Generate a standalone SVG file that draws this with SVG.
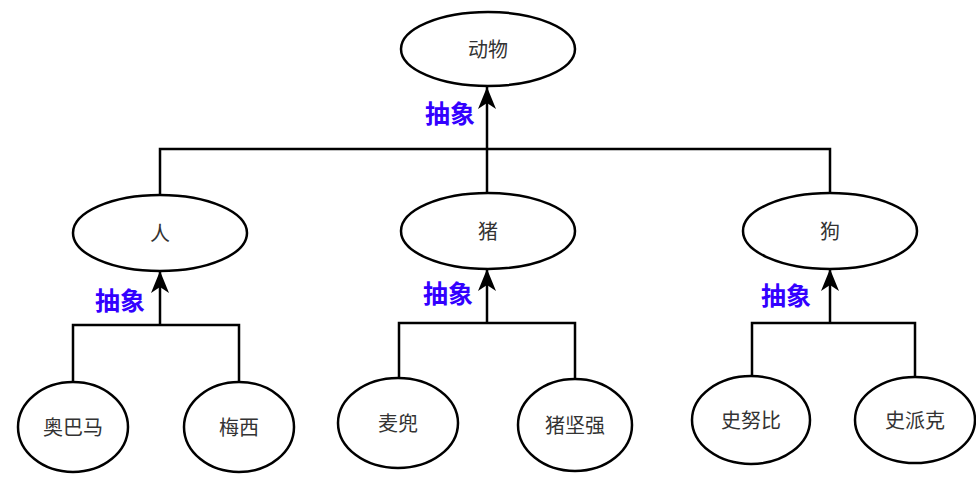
<svg xmlns="http://www.w3.org/2000/svg" width="976" height="482" viewBox="0 0 976 482">
<style>
.n ellipse{fill:#fff;stroke:#000;stroke-width:2.5}
.n text{font-family:"Noto Sans CJK SC","Liberation Sans",sans-serif;font-size:20px;fill:#333;text-anchor:middle;dominant-baseline:central}
.c path{fill:none;stroke:#000;stroke-width:2.5}
.lbl{font-family:"Noto Sans CJK SC",sans-serif;font-size:25px;font-weight:bold;fill:#3300ff;text-anchor:middle}
</style>
<defs>
<marker id="ah" viewBox="0 0 22 18" refX="22" refY="9" markerWidth="22" markerHeight="18" markerUnits="userSpaceOnUse" orient="auto">
<path d="M0,0 L22,9 L0,18 L6,9 Z" fill="#000"/>
</marker>
</defs>
<g class="c" id="connectors">
<path d="M160,195 V149 H830 V193"/>
<path d="M487,149 V193"/>
<path d="M487,149 V87" marker-end="url(#ah)"/>
<path d="M73,382 V325 H239 V382"/>
<path d="M160,325 V271" marker-end="url(#ah)"/>
<path d="M399,379 V323 H575 V378"/>
<path d="M487,323 V269" marker-end="url(#ah)"/>
<path d="M752,376 V323 H915 V377"/>
<path d="M830,323 V269" marker-end="url(#ah)"/>
</g>
<text class="lbl" x="450" y="123">抽象</text>
<text class="lbl" x="120" y="310">抽象</text>
<text class="lbl" x="448" y="303">抽象</text>
<text class="lbl" x="786" y="305">抽象</text>
<g class="n" id="animal"><ellipse cx="488" cy="49" rx="87" ry="37"/><text x="488" y="48">动物</text></g>
<g class="n" id="person"><ellipse cx="160" cy="233" rx="87" ry="38"/><text x="160" y="232">人</text></g>
<g class="n" id="pig"><ellipse cx="488" cy="231" rx="87" ry="38"/><text x="488" y="230">猪</text></g>
<g class="n" id="dog"><ellipse cx="830" cy="231" rx="87" ry="38"/><text x="830" y="230">狗</text></g>
<g class="n" id="obama"><ellipse cx="73" cy="427" rx="55" ry="45"/><text x="73" y="426">奥巴马</text></g>
<g class="n" id="messi"><ellipse cx="239" cy="427" rx="55" ry="45"/><text x="239" y="426">梅西</text></g>
<g class="n" id="maidou"><ellipse cx="398" cy="423" rx="60" ry="45"/><text x="398" y="422">麦兜</text></g>
<g class="n" id="zhujianqiang"><ellipse cx="575" cy="425" rx="57" ry="46"/><text x="575" y="424">猪坚强</text></g>
<g class="n" id="snoopy"><ellipse cx="751" cy="420" rx="59" ry="44"/><text x="751" y="419">史努比</text></g>
<g class="n" id="spike"><ellipse cx="915" cy="420" rx="60" ry="43"/><text x="915" y="419">史派克</text></g>
</svg>
